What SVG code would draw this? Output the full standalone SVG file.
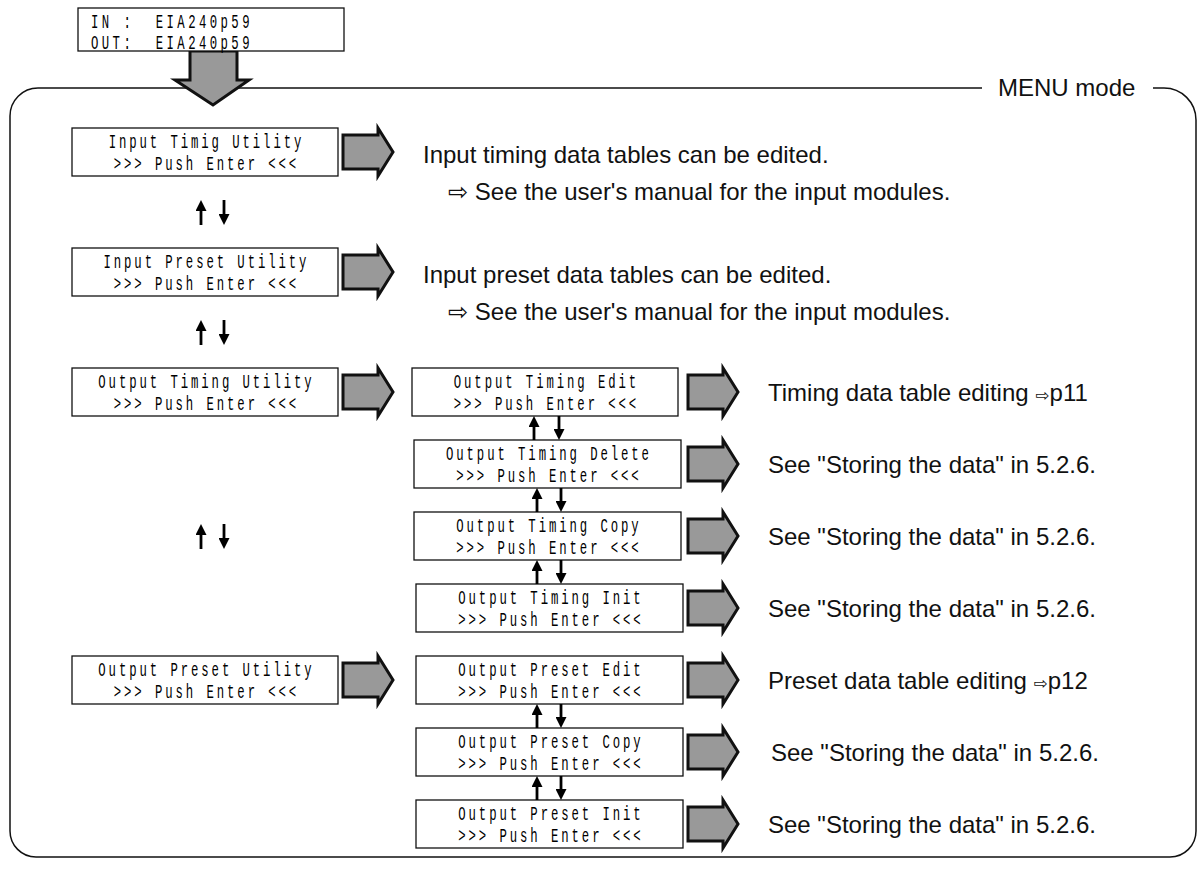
<svg xmlns="http://www.w3.org/2000/svg" width="1204" height="869" viewBox="0 0 1204 869">
<style>
.box{fill:#fff;stroke:#111;stroke-width:1.3}
.lcd{font-family:"Liberation Mono","DejaVu Sans Mono",monospace;font-size:20.5px;letter-spacing:4.87px;text-anchor:middle;fill:#000}
.lcdl{font-family:"Liberation Mono","DejaVu Sans Mono",monospace;font-size:20.5px;letter-spacing:5.7px;text-anchor:start;fill:#000}
.blk{fill:#999;stroke:#111;stroke-width:3;stroke-linejoin:miter}
.lbl{font-family:"Liberation Sans",Arial,sans-serif;font-size:24px;fill:#111}
.sym{font-family:"DejaVu Sans",sans-serif}
.nav{stroke:#000;stroke-width:2.8;fill:none;marker-end:url(#ah)}
.frame{fill:none;stroke:#111;stroke-width:1.5}
</style>
<defs>
<marker id="ah" markerUnits="userSpaceOnUse" markerWidth="11" markerHeight="11" refX="2" refY="5.5" orient="auto"><path d="M0,0 L11,5.5 L0,11 Z" fill="#000"/></marker>
<path id="ra" d="M0,-17 H35 V-24 L50,0 L35,24 V17 H0 Z"/>
</defs>
<rect width="1204" height="869" fill="#fff"/>
<g id="frame">
<path class="frame" d="M982,88 H38 A28,28 0 0 0 10,116 V831 A26,26 0 0 0 36,857 H1170 A26,26 0 0 0 1196,831 V120 A32,32 0 0 0 1164,88 H1153"/>
<text class="lbl" x="998" y="96">MENU mode</text>
</g>
<g id="status">
<path class="blk" d="M190,51 H237 V80 H249 L213,105 L175,80 H190 Z"/>
<rect class="box" x="78" y="8" width="266" height="43"/>
<text class="lcdl" xml:space="preserve" transform="translate(91,28) scale(0.6,1)">IN :  EIA240p59</text>
<text class="lcdl" xml:space="preserve" transform="translate(91,49) scale(0.6,1)">OUT:  EIA240p59</text>
</g>
<g id="n-input-timing">
<rect class="box" x="72" y="128" width="266" height="48"/>
<text class="lcd" x="2.4" transform="translate(205,148) scale(0.6,1)">Input Timig Utility</text>
<text class="lcd" x="2.4" transform="translate(205,170) scale(0.6,1)">&gt;&gt;&gt; Push Enter &lt;&lt;&lt;</text>
</g>
<g id="n-input-preset">
<rect class="box" x="72" y="248" width="266" height="48"/>
<text class="lcd" x="2.4" transform="translate(205,268) scale(0.6,1)">Input Preset Utility</text>
<text class="lcd" x="2.4" transform="translate(205,290) scale(0.6,1)">&gt;&gt;&gt; Push Enter &lt;&lt;&lt;</text>
</g>
<g id="n-output-timing">
<rect class="box" x="72" y="368" width="266" height="48"/>
<text class="lcd" x="2.4" transform="translate(205,388) scale(0.6,1)">Output Timing Utility</text>
<text class="lcd" x="2.4" transform="translate(205,410) scale(0.6,1)">&gt;&gt;&gt; Push Enter &lt;&lt;&lt;</text>
</g>
<g id="n-output-preset">
<rect class="box" x="72" y="656" width="266" height="48"/>
<text class="lcd" x="2.4" transform="translate(205,676) scale(0.6,1)">Output Preset Utility</text>
<text class="lcd" x="2.4" transform="translate(205,698) scale(0.6,1)">&gt;&gt;&gt; Push Enter &lt;&lt;&lt;</text>
</g>
<g id="n-timing-edit">
<rect class="box" x="412" y="368" width="266" height="48"/>
<text class="lcd" x="2.4" transform="translate(545,388) scale(0.6,1)">Output Timing Edit</text>
<text class="lcd" x="2.4" transform="translate(545,410) scale(0.6,1)">&gt;&gt;&gt; Push Enter &lt;&lt;&lt;</text>
</g>
<g id="n-timing-delete">
<rect class="box" x="414" y="440" width="267" height="48"/>
<text class="lcd" x="2.4" transform="translate(547.5,460) scale(0.6,1)">Output Timing Delete</text>
<text class="lcd" x="2.4" transform="translate(547.5,482) scale(0.6,1)">&gt;&gt;&gt; Push Enter &lt;&lt;&lt;</text>
</g>
<g id="n-timing-copy">
<rect class="box" x="414" y="512" width="267" height="48"/>
<text class="lcd" x="2.4" transform="translate(547.5,532) scale(0.6,1)">Output Timing Copy</text>
<text class="lcd" x="2.4" transform="translate(547.5,554) scale(0.6,1)">&gt;&gt;&gt; Push Enter &lt;&lt;&lt;</text>
</g>
<g id="n-timing-init">
<rect class="box" x="416" y="584" width="267" height="48"/>
<text class="lcd" x="2.4" transform="translate(549.5,604) scale(0.6,1)">Output Timing Init</text>
<text class="lcd" x="2.4" transform="translate(549.5,626) scale(0.6,1)">&gt;&gt;&gt; Push Enter &lt;&lt;&lt;</text>
</g>
<g id="n-preset-edit">
<rect class="box" x="416" y="656" width="267" height="48"/>
<text class="lcd" x="2.4" transform="translate(549.5,676) scale(0.6,1)">Output Preset Edit</text>
<text class="lcd" x="2.4" transform="translate(549.5,698) scale(0.6,1)">&gt;&gt;&gt; Push Enter &lt;&lt;&lt;</text>
</g>
<g id="n-preset-copy">
<rect class="box" x="416" y="728" width="267" height="48"/>
<text class="lcd" x="2.4" transform="translate(549.5,748) scale(0.6,1)">Output Preset Copy</text>
<text class="lcd" x="2.4" transform="translate(549.5,770) scale(0.6,1)">&gt;&gt;&gt; Push Enter &lt;&lt;&lt;</text>
</g>
<g id="n-preset-init">
<rect class="box" x="416" y="800" width="267" height="48"/>
<text class="lcd" x="2.4" transform="translate(549.5,820) scale(0.6,1)">Output Preset Init</text>
<text class="lcd" x="2.4" transform="translate(549.5,842) scale(0.6,1)">&gt;&gt;&gt; Push Enter &lt;&lt;&lt;</text>
</g>
<g id="connectors">
<use href="#ra" class="blk" transform="translate(343,152)"/>
<use href="#ra" class="blk" transform="translate(343,272)"/>
<use href="#ra" class="blk" transform="translate(343,392)"/>
<use href="#ra" class="blk" transform="translate(343,680)"/>
<use href="#ra" class="blk" transform="translate(688,392)"/>
<use href="#ra" class="blk" transform="translate(688,464)"/>
<use href="#ra" class="blk" transform="translate(688,536)"/>
<use href="#ra" class="blk" transform="translate(688,608)"/>
<use href="#ra" class="blk" transform="translate(688,680)"/>
<use href="#ra" class="blk" transform="translate(688,752)"/>
<use href="#ra" class="blk" transform="translate(688,824)"/>
<line class="nav" x1="201" y1="225" x2="201" y2="209"/>
<line class="nav" x1="224" y1="200" x2="224" y2="216"/>
<line class="nav" x1="201" y1="345" x2="201" y2="329"/>
<line class="nav" x1="224" y1="320" x2="224" y2="336"/>
<line class="nav" x1="201" y1="549" x2="201" y2="533"/>
<line class="nav" x1="224" y1="524" x2="224" y2="540"/>
<line class="nav" x1="534" y1="440" x2="534" y2="425"/>
<line class="nav" x1="559" y1="416" x2="559" y2="431"/>
<line class="nav" x1="537" y1="512" x2="537" y2="497"/>
<line class="nav" x1="561" y1="488" x2="561" y2="503"/>
<line class="nav" x1="537" y1="584" x2="537" y2="569"/>
<line class="nav" x1="561" y1="560" x2="561" y2="575"/>
<line class="nav" x1="537" y1="728" x2="537" y2="713"/>
<line class="nav" x1="561" y1="704" x2="561" y2="719"/>
<line class="nav" x1="537" y1="800" x2="537" y2="785"/>
<line class="nav" x1="561" y1="776" x2="561" y2="791"/>
</g>
<g id="labels">
<text class="lbl" x="423" y="163">Input timing data tables can be edited.</text>
<text class="lbl" x="448" y="200"><tspan class="sym">⇨</tspan> See the user's manual for the input modules.</text>
<text class="lbl" x="423" y="283">Input preset data tables can be edited.</text>
<text class="lbl" x="448" y="320"><tspan class="sym">⇨</tspan> See the user's manual for the input modules.</text>
<text class="lbl" x="768" y="401">Timing data table editing <tspan class="sym" font-size="17">⇨</tspan>p11</text>
<text class="lbl" x="768" y="473">See "Storing the data" in 5.2.6.</text>
<text class="lbl" x="768" y="545">See "Storing the data" in 5.2.6.</text>
<text class="lbl" x="768" y="617">See "Storing the data" in 5.2.6.</text>
<text class="lbl" x="768" y="689">Preset data table editing <tspan class="sym" font-size="17">⇨</tspan>p12</text>
<text class="lbl" x="771" y="761">See "Storing the data" in 5.2.6.</text>
<text class="lbl" x="768" y="833">See "Storing the data" in 5.2.6.</text>
</g>
</svg>
